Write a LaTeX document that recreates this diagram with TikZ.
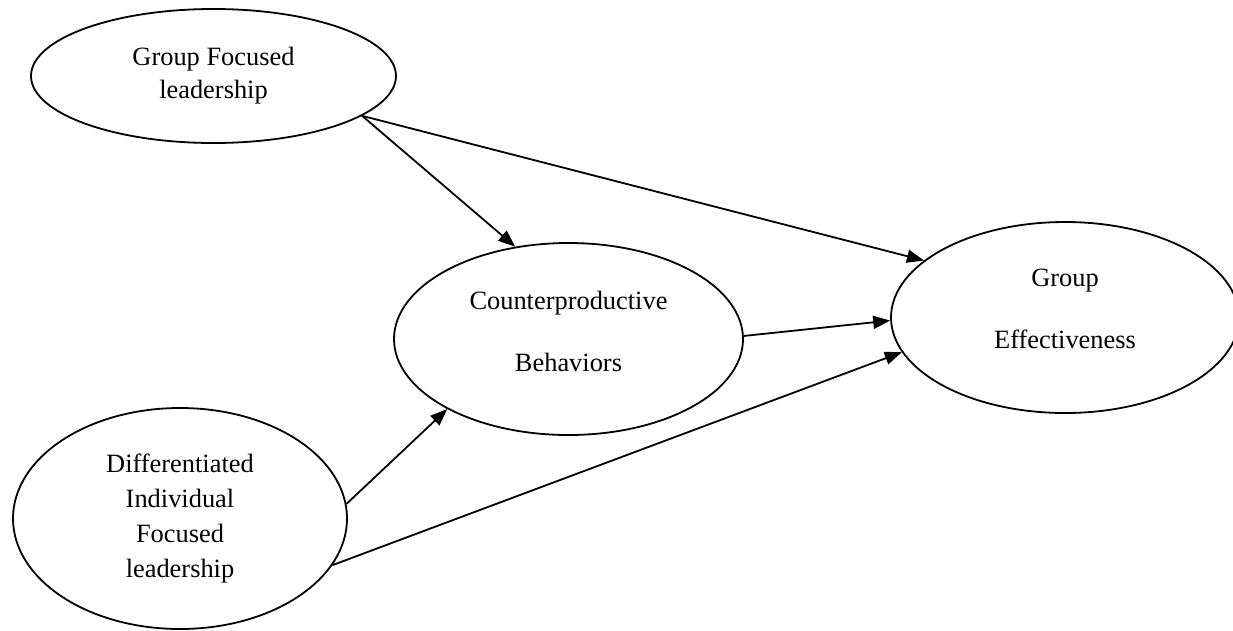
\documentclass[tikz,border=0pt]{standalone}
\usepackage{fontspec}
\setmainfont{Liberation Serif}
\usetikzlibrary{shapes.geometric,positioning,arrows.meta}

\begin{document}
\begin{tikzpicture}[x=1pt,y=-1pt,line width=1.8pt,on grid,
    construct/.style={ellipse,draw,inner sep=0pt,align=center,
        font=\fontsize{26.4}{33}\selectfont},
    >={Triangle[length=17pt,width=13pt]}]
    \useasboundingbox (0,0) rectangle (1233,630);

    \node[construct,minimum width=365pt,minimum height=134pt] (gfl) at (213.5,76)
        {Group Focused\\leadership};
    \node[construct,minimum width=349pt,minimum height=192pt,text depth=16pt] (cb)
        [below right=263pt and 355pt of gfl] {Counterproductive\\[29pt]Behaviors};
    \node[construct,minimum width=348pt,minimum height=191pt,text depth=18pt] (ge)
        [above right=21.5pt and 496.5pt of cb] {Group\\[29pt]Effectiveness};
    \node[construct,minimum width=334pt,minimum height=221pt,
        font=\fontsize{26.4}{35}\selectfont] (difl)
        [below left=442.5pt and 33.5pt of gfl] {Differentiated\\Individual\\Focused\\leadership};

    \path[->]
    (gfl.-15) edge (cb.120)
              edge (ge.158.4)
    (cb.1.9)  edge (ge.181.8)
    (difl.5.3)   edge (cb.210.6)
    (difl.-17.7) edge (ge.192.4);
\end{tikzpicture}
\end{document}
